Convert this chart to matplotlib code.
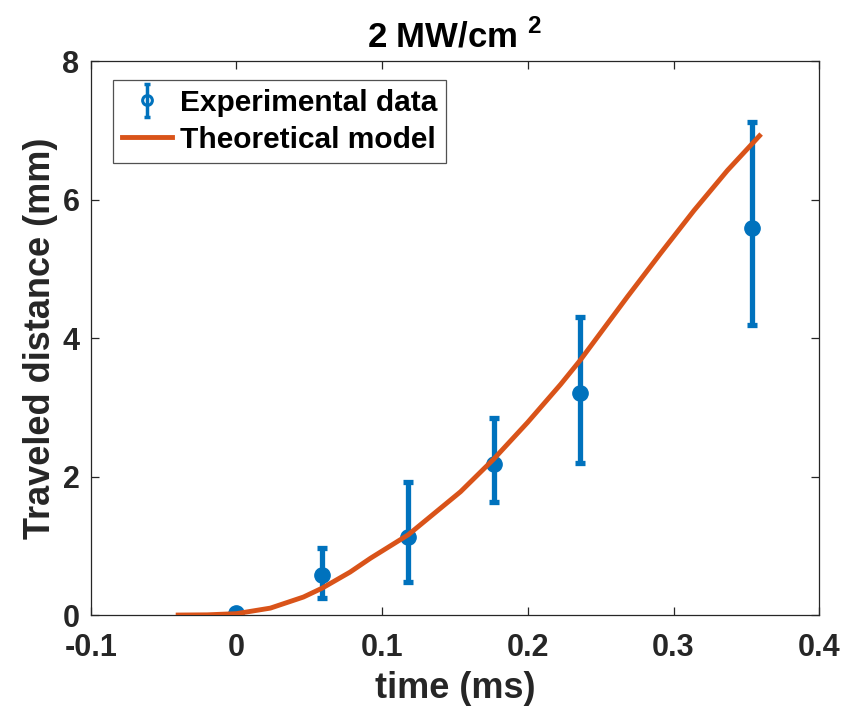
import matplotlib
matplotlib.use("Agg")
import matplotlib.pyplot as plt
from matplotlib.legend_handler import HandlerErrorbar
from matplotlib.lines import Line2D

# Experimental data
exp_t = [0.0, 0.059, 0.118, 0.177, 0.236, 0.354]
exp_d = [0.03, 0.58, 1.12, 2.18, 3.21, 5.59]
exp_lo = [0.03, 0.24, 0.48, 1.63, 2.20, 4.19]
exp_hi = [0.03, 0.97, 1.92, 2.84, 4.31, 7.12]

# Theoretical model
th_t = [-0.04, -0.02, 0.0, 0.0233, 0.046, 0.059, 0.078, 0.092, 0.118, 0.1538,
        0.1765, 0.1998, 0.2225, 0.236, 0.2685, 0.291, 0.314, 0.337, 0.359]
th_d = [0.0, 0.003, 0.02, 0.10, 0.26, 0.39, 0.62, 0.82, 1.16, 1.78,
        2.25, 2.78, 3.33, 3.68, 4.60, 5.22, 5.84, 6.42, 6.92]

xticks = [-0.1, 0, 0.1, 0.2, 0.3, 0.4]
xticklabels = ["-0.1", "0", "0.1", "0.2", "0.3", "0.4"]
yticks = [0, 2, 4, 6, 8]

plt.rcParams['font.family'] = ['Liberation Sans', 'DejaVu Sans']
plt.rcParams['font.weight'] = 'bold'
plt.rcParams['mathtext.fontset'] = 'custom'
plt.rcParams['mathtext.bf'] = 'Liberation Sans:bold'
plt.rcParams['mathtext.rm'] = 'Liberation Sans:bold'

fig = plt.figure(figsize=(8.56, 7.13), dpi=100)
ax = fig.add_axes([0.106, 0.1374, 0.851, 0.777])

blue = '#0072BD'
orange = '#D95319'
dark = '#262626'

yerr = [[d - lo for d, lo in zip(exp_d, exp_lo)], [hi - d for d, hi in zip(exp_d, exp_hi)]]
eb = ax.errorbar(exp_t, exp_d, yerr=yerr, fmt='o', color=blue, ecolor=blue,
                 elinewidth=3.8, capsize=3.5, capthick=3.8, markersize=11,
                 label='Experimental data', zorder=2)
ln, = ax.plot(th_t, th_d, color=orange, linewidth=3.5, label='Theoretical model', zorder=3)

ax.set_xlim(-0.1, 0.4)
ax.set_ylim(0, 8)
ax.set_xticks(xticks)
ax.set_xticklabels(xticklabels)
ax.set_yticks(yticks)
ax.tick_params(direction='in', length=6, width=0.9, colors=dark, labelsize=22,
               top=True, right=True)
ax.tick_params(axis='x', pad=13)
ax.tick_params(axis='y', pad=8)
for lab in ax.get_xticklabels() + ax.get_yticklabels():
    lab.set_fontweight('bold')
    lab.set_color(dark)
for s in ax.spines.values():
    s.set_linewidth(0.9)
    s.set_color(dark)

ax.set_xlabel('time (ms)', fontsize=26, fontweight='bold', color=dark, labelpad=6)
ax.set_ylabel('Traveled distance (mm)', fontsize=26, fontweight='bold', color=dark, labelpad=3)
ax.set_title(r'2 MW/cm $^{\mathbf{2}}$', fontsize=25, fontweight='bold', pad=10)


def _upd(lh, oh):
    lh.update_from(oh)
    if isinstance(lh, Line2D):
        if lh.get_marker() == 'o':
            lh.set_markerfacecolor('none')
            lh.set_markersize(7)
            lh.set_markeredgewidth(2.2)
        elif lh.get_marker() not in (None, 'None', ''):
            lh.set_markersize(5)
            lh.set_markeredgewidth(2.5)
    else:
        try:
            lh.set_linewidth(2.5)
        except Exception:
            pass


leg = ax.legend([eb, ln], ['Experimental data', 'Theoretical model'],
                loc='upper left', fontsize=21.5, frameon=True, fancybox=False,
                edgecolor=dark, borderpad=0.3, handlelength=1.7, handletextpad=0.25,
                labelspacing=0.3, borderaxespad=0.0, bbox_to_anchor=(0.030, 0.966),
                handler_map={type(eb): HandlerErrorbar(yerr_size=0.55, update_func=_upd)})
leg.get_frame().set_linewidth(0.9)
for t in leg.get_texts():
    t.set_fontweight('bold')

fig.savefig('out.png', dpi=100)
